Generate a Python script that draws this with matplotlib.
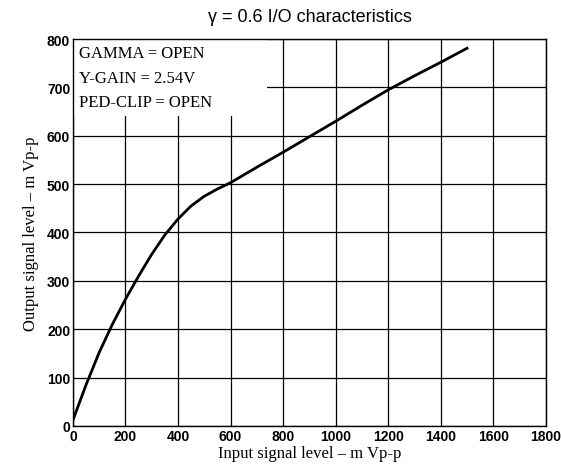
import matplotlib
matplotlib.use("Agg")
import matplotlib.pyplot as plt
from matplotlib.patches import Rectangle

# Data
input_mv = [0, 50, 100, 150, 200, 250, 300, 350, 400, 450, 500, 550, 600, 700, 800, 900, 1000, 1100, 1200, 1300, 1400, 1500]
output_mv = [12, 85, 152, 210, 262, 310, 355, 395, 428, 455, 475, 490, 503, 535, 566, 598, 630, 663, 695, 724, 752, 781]

x_ticks = [0, 200, 400, 600, 800, 1000, 1200, 1400, 1600, 1800]
x_tick_labels = ["0", "200", "400", "600", "800", "1000", "1200", "1400", "1600", "1800"]
y_ticks = [0, 100, 200, 300, 400, 500, 600, 700, 800]
y_tick_labels = ["0", "100", "200", "300", "400", "500", "600", "700", "800"]

title = "γ = 0.6 I/O characteristics"
x_label = "Input signal level – m Vp-p"
y_label = "Output signal level – m Vp-p"
conditions = ["GAMMA = OPEN", "Y-GAIN = 2.54V", "PED-CLIP = OPEN"]

fig = plt.figure(figsize=(5.61, 4.77), dpi=100)
ax = fig.add_axes([0.130, 0.105, 0.843, 0.811])

ax.set_xlim(0, 1800)
ax.set_ylim(0, 800)
ax.set_xticks(x_ticks)
ax.set_xticklabels(x_tick_labels)
ax.set_yticks(y_ticks)
ax.set_yticklabels(y_tick_labels)
ax.tick_params(length=0, pad=2, labelsize=10)
for lbl in ax.get_xticklabels() + ax.get_yticklabels():
    lbl.set_fontfamily("Liberation Sans")
    lbl.set_fontweight("bold")

ax.grid(True, color="black", linewidth=0.9)
ax.set_axisbelow(True)
for s in ax.spines.values():
    s.set_linewidth(1.0)
    s.set_color("black")

# white box hiding grid behind the condition text
ax.add_patch(Rectangle((2, 640), 738, 158, facecolor="white", edgecolor="none", zorder=1.5))

ax.plot(input_mv, output_mv, color="black", linewidth=2.0, zorder=3)

for i, t in enumerate(conditions):
    ax.text(0.012, 0.985 - i * 0.064, t, transform=ax.transAxes, ha="left", va="top",
            fontsize=12, family="Liberation Serif", zorder=4)

fig.text(0.553, 0.963, title, ha="center", va="center", fontsize=13, family="Liberation Sans")
ax.set_xlabel(x_label, fontsize=12, family="Liberation Serif", labelpad=2)
ax.set_ylabel(y_label, fontsize=12, family="Liberation Serif", labelpad=6)

fig.savefig("out.png", dpi=100)
